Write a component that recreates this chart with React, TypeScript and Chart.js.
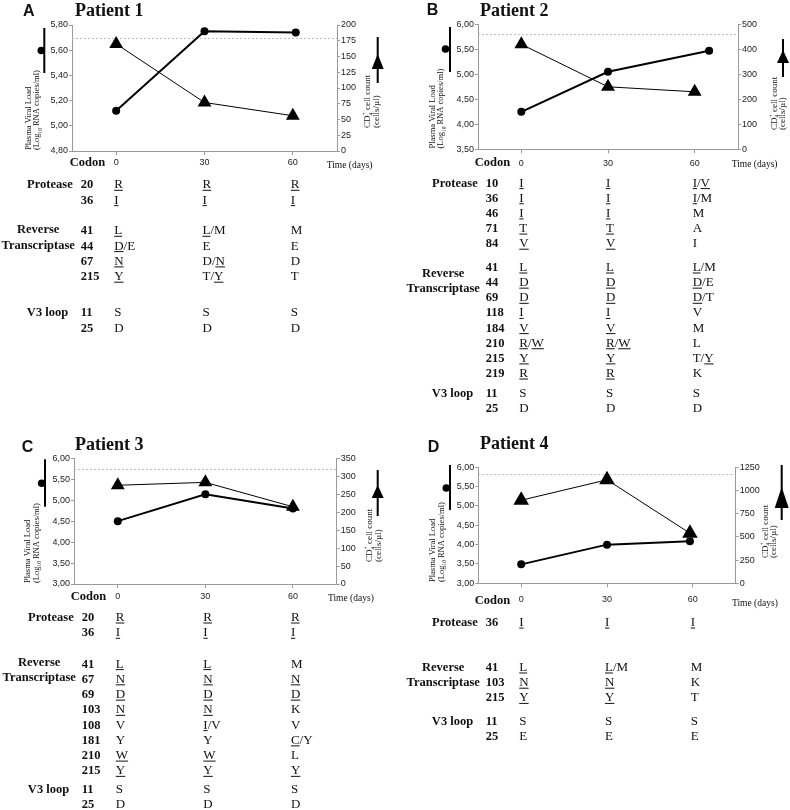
import React, { useEffect, useRef } from 'react';
import { Chart, registerables } from 'chart.js';

Chart.register(...registerables);

const SERIF = "'Liberation Serif', 'Times New Roman', Times, serif";
const SANS = "'Liberation Sans', Arial, Helvetica, sans-serif";
const NARROW = "'Liberation Sans Narrow', 'Arial Narrow', 'Liberation Sans', Arial, sans-serif";
const AXIS = '#9a9a9a';
const INK = '#111111';

// ---------- shared ----------
const timeTicks = [0, 30, 60];
const timeRange = [-15, 75];
const groupNames = ['Protease', 'Reverse Transcriptase', 'V3 loop'];
const codonLabel = 'Codon';
const timeLabel = 'Time (days)';
type Seg = string | { sub?: string; sup?: string };
const leftTitle1: Seg[] = ['Plasma Viral Load'];
const leftTitle2: Seg[] = ['(Log', { sub: '10' }, ' RNA copies/ml)'];
const rightTitle1: Seg[] = ['CD', { sub: '4', sup: '+' }, ' cell count'];
const rightTitle2: Seg[] = ['(cells/µl)'];

// ---------- Patient 1 ----------
const p1Letter = 'A';
const p1Title = 'Patient 1';
const p1ViralDays = [0, 30, 61];
const p1Viral = [5.12, 5.75, 5.74];
const p1Cd4Days = [0, 30, 60];
const p1Cd4 = [170, 77, 56];
const p1Ref = 5.7;
const p1LeftTicks = [4.8, 5.0, 5.2, 5.4, 5.6, 5.8];
const p1RightTicks = [0, 25, 50, 75, 100, 125, 150, 175, 200];
const p1Protease = [['20', '_R', '_R', '_R'], ['36', '_I', '_I', '_I']];
const p1RT = [['41', '_L', '_L/M', 'M'], ['44', '_D/E', 'E', 'E'], ['67', '_N', 'D/_N', 'D'], ['215', '_Y', 'T/_Y', 'T']];
const p1V3 = [['11', 'S', 'S', 'S'], ['25', 'D', 'D', 'D']];

// ---------- Patient 2 ----------
const p2Letter = 'B';
const p2Title = 'Patient 2';
const p2ViralDays = [0, 30, 65];
const p2Viral = [4.25, 5.05, 5.47];
const p2Cd4Days = [0, 30, 60];
const p2Cd4 = [420, 250, 230];
const p2Ref = 5.8;
const p2LeftTicks = [3.5, 4.0, 4.5, 5.0, 5.5, 6.0];
const p2RightTicks = [0, 100, 200, 300, 400, 500];
const p2Protease = [['10', '_I', '_I', '_I/_V'], ['36', '_I', '_I', '_I/M'], ['46', '_I', '_I', 'M'], ['71', '_T', '_T', 'A'], ['84', '_V', '_V', 'I']];
const p2RT = [['41', '_L', '_L', '_L/M'], ['44', '_D', '_D', '_D/E'], ['69', '_D', '_D', '_D/T'], ['118', '_I', '_I', 'V'], ['184', '_V', '_V', 'M'], ['210', '_R/_W', '_R/_W', 'L'], ['215', '_Y', '_Y', 'T/_Y'], ['219', '_R', '_R', 'K']];
const p2V3 = [['11', 'S', 'S', 'S'], ['25', 'D', 'D', 'D']];

// ---------- Patient 3 ----------
const p3Letter = 'C';
const p3Title = 'Patient 3';
const p3ViralDays = [0, 30, 60];
const p3Viral = [4.5, 5.14, 4.8];
const p3Cd4Days = [0, 30, 60];
const p3Cd4 = [275, 283, 215];
const p3Ref = 5.74;
const p3LeftTicks = [3.0, 3.5, 4.0, 4.5, 5.0, 5.5, 6.0];
const p3RightTicks = [0, 50, 100, 150, 200, 250, 300, 350];
const p3Protease = [['20', '_R', '_R', '_R'], ['36', '_I', '_I', '_I']];
const p3RT = [['41', '_L', '_L', 'M'], ['67', '_N', '_N', '_N'], ['69', '_D', '_D', '_D'], ['103', '_N', '_N', 'K'], ['108', 'V', '_I/V', 'V'], ['181', 'Y', 'Y', '_C/Y'], ['210', '_W', '_W', 'L'], ['215', '_Y', '_Y', '_Y']];
const p3V3 = [['11', 'S', 'S', 'S'], ['25', 'D', 'D', 'D']];

// ---------- Patient 4 ----------
const p4Letter = 'D';
const p4Title = 'Patient 4';
const p4ViralDays = [0, 30, 59];
const p4Viral = [3.49, 4.0, 4.09];
const p4Cd4Days = [0, 30, 59];
const p4Cd4 = [895, 1115, 540];
const p4Ref = 5.82;
const p4LeftTicks = [3.0, 3.5, 4.0, 4.5, 5.0, 5.5, 6.0];
const p4RightTicks = [0, 250, 500, 750, 1000, 1250];
const p4Protease = [['36', '_I', '_I', '_I']];
const p4RT = [['41', '_L', '_L/M', 'M'], ['103', '_N', '_N', 'K'], ['215', '_Y', '_Y', 'T']];
const p4V3 = [['11', 'S', 'S', 'S'], ['25', 'E', 'E', 'E']];

type PanelData = {
  letter: string; title: string;
  viralDays: number[]; viral: number[]; cd4Days: number[]; cd4: number[];
  ref: number; leftTicks: number[]; rightTicks: number[]; groups: string[][][];
};

const panels: PanelData[] = [
  { letter: p1Letter, title: p1Title, viralDays: p1ViralDays, viral: p1Viral, cd4Days: p1Cd4Days, cd4: p1Cd4, ref: p1Ref, leftTicks: p1LeftTicks, rightTicks: p1RightTicks, groups: [p1Protease, p1RT, p1V3] },
  { letter: p2Letter, title: p2Title, viralDays: p2ViralDays, viral: p2Viral, cd4Days: p2Cd4Days, cd4: p2Cd4, ref: p2Ref, leftTicks: p2LeftTicks, rightTicks: p2RightTicks, groups: [p2Protease, p2RT, p2V3] },
  { letter: p3Letter, title: p3Title, viralDays: p3ViralDays, viral: p3Viral, cd4Days: p3Cd4Days, cd4: p3Cd4, ref: p3Ref, leftTicks: p3LeftTicks, rightTicks: p3RightTicks, groups: [p3Protease, p3RT, p3V3] },
  { letter: p4Letter, title: p4Title, viralDays: p4ViralDays, viral: p4Viral, cd4Days: p4Cd4Days, cd4: p4Cd4, ref: p4Ref, leftTicks: p4LeftTicks, rightTicks: p4RightTicks, groups: [p4Protease, p4RT, p4V3] },
];

// ---------- layout (positions only) ----------
type PanelLayout = {
  x: number; y: number; w: number; h: number;
  area: [number, number, number, number];
  letterPos: [number, number]; titlePos: [number, number];
  leftTitleX: [number, number]; leftTitleY: number;
  leftLegend: { x: number; y1: number; y2: number; cx: number; cy: number };
  rightTitleX: [number, number]; rightTitleY: number;
  rightLegend: { x: number; y1: number; y2: number; apex: number; base: number; hw: number };
  codonY: number; xPad: number; timePos: [number, number];
  codonX: number; groupY: number[]; rowStep: number; rtDy: number; triR: number;
};

const layouts: PanelLayout[] = [
  {
    x: 0, y: 0, w: 395, h: 420, area: [72, 25, 337, 151],
    letterPos: [23, 15.5], titlePos: [75, 16],
    leftTitleX: [30.5, 39], leftTitleY: 150,
    leftLegend: { x: 44.3, y1: 28, y2: 73, cx: 41.3, cy: 50.5 },
    rightTitleX: [370, 378.5], rightTitleY: 128,
    rightLegend: { x: 377.7, y1: 37, y2: 83, apex: 54, base: 69, hw: 6 },
    codonY: 163, xPad: 2.6, timePos: [326.7, 165],
    codonX: 80.7, groupY: [184, 230, 312], rowStep: 15.3, rtDy: -1, triR: 8,
  },
  {
    x: 395, y: 0, w: 395, h: 420, area: [83, 24.3, 343, 149.3],
    letterPos: [31.7, 15], titlePos: [85, 15.5],
    leftTitleX: [40, 48], leftTitleY: 148.5,
    leftLegend: { x: 55, y1: 27, y2: 72, cx: 50.5, cy: 49 },
    rightTitleX: [381.5, 390], rightTitleY: 130,
    rightLegend: { x: 388, y1: 39, y2: 77, apex: 50, base: 63, hw: 6 },
    codonY: 162.7, xPad: 4.6, timePos: [336.7, 164.3],
    codonX: 90.7, groupY: [182.3, 266.7, 392.7], rowStep: 15.15, rtDy: 6, triR: 8,
  },
  {
    x: 0, y: 410, w: 395, h: 400, area: [74, 48.3, 336.7, 174],
    letterPos: [21.7, 41.7], titlePos: [75, 39.5],
    leftTitleX: [30, 38.5], leftTitleY: 173,
    leftLegend: { x: 45, y1: 49.3, y2: 96.7, cx: 41.7, cy: 73.3 },
    rightTitleX: [372, 381], rightTitleY: 152,
    rightLegend: { x: 377.7, y1: 60, y2: 106, apex: 75, base: 88, hw: 6 },
    codonY: 186.7, xPad: 3.6, timePos: [328, 188],
    codonX: 81.7, groupY: [206.7, 253.3, 379], rowStep: 15.25, rtDy: -1.5, triR: 8,
  },
  {
    x: 395, y: 410, w: 395, h: 400, area: [83.3, 57.3, 340.7, 173.3],
    letterPos: [32.7, 41.7], titlePos: [85, 38.5],
    leftTitleX: [40, 48.5], leftTitleY: 172,
    leftLegend: { x: 55, y1: 55, y2: 100, cx: 51.3, cy: 78 },
    rightTitleX: [372.5, 380.5], rightTitleY: 148,
    rightLegend: { x: 386.7, y1: 55, y2: 110, apex: 77, base: 98, hw: 7 },
    codonY: 191, xPad: 6.6, timePos: [337, 193.3],
    codonX: 90.7, groupY: [211.7, 256.7, 311], rowStep: 15.2, rtDy: 0, triR: 9,
  },
];

// ---------- drawing helpers ----------
function drawSegs(ctx: CanvasRenderingContext2D, segs: Seg[], size: number) {
  let x = 0;
  for (const s of segs) {
    if (typeof s === 'string') {
      ctx.font = `${size}px ${SERIF}`;
      ctx.fillText(s, x, 0);
      x += ctx.measureText(s).width;
    } else {
      ctx.font = `${size * 0.62}px ${SERIF}`;
      let w = 0;
      if (s.sub) { ctx.fillText(s.sub, x, size * 0.3); w = Math.max(w, ctx.measureText(s.sub).width); }
      if (s.sup) { ctx.fillText(s.sup, x, -size * 0.42); w = Math.max(w, ctx.measureText(s.sup).width); }
      x += w;
    }
  }
}

function drawRotated(ctx: CanvasRenderingContext2D, segs: Seg[], x: number, y: number, size: number) {
  ctx.save();
  ctx.translate(x, y);
  ctx.rotate(-Math.PI / 2);
  ctx.textAlign = 'left';
  ctx.textBaseline = 'alphabetic';
  drawSegs(ctx, segs, size);
  ctx.restore();
}

function drawMarked(ctx: CanvasRenderingContext2D, str: string, x: number, y: number) {
  let cx = x;
  let under = false;
  for (const ch of str) {
    if (ch === '_') { under = true; continue; }
    ctx.fillText(ch, cx, y);
    const w = ctx.measureText(ch).width;
    if (under) ctx.fillRect(cx, y + 1.6, w, 1);
    cx += w;
    under = false;
  }
}

function makePlugin(d: PanelData, L: PanelLayout) {
  return {
    id: 'decor' + d.letter,
    beforeDatasetsDraw(chart: any) {
      const ctx: CanvasRenderingContext2D = chart.ctx;
      const a = chart.chartArea;
      const y = Math.round(chart.scales.yL.getPixelForValue(d.ref)) + 0.5;
      ctx.save();
      ctx.strokeStyle = '#bdbdbd';
      ctx.lineWidth = 1;
      ctx.setLineDash([2, 2]);
      ctx.beginPath();
      ctx.moveTo(a.left, y);
      ctx.lineTo(a.right, y);
      ctx.stroke();
      ctx.restore();
    },
    afterDraw(chart: any) {
      const ctx: CanvasRenderingContext2D = chart.ctx;
      ctx.save();
      ctx.fillStyle = INK;
      ctx.textAlign = 'left';
      ctx.textBaseline = 'alphabetic';
      ctx.font = `bold 16px ${SANS}`;
      ctx.fillText(d.letter, L.letterPos[0], L.letterPos[1]);
      ctx.font = `bold 18px ${SERIF}`;
      ctx.fillText(d.title, L.titlePos[0], L.titlePos[1]);

      drawRotated(ctx, leftTitle1, L.leftTitleX[0], L.leftTitleY, 8.5);
      drawRotated(ctx, leftTitle2, L.leftTitleX[1], L.leftTitleY, 8.5);
      drawRotated(ctx, rightTitle1, L.rightTitleX[0], L.rightTitleY, 9);
      drawRotated(ctx, rightTitle2, L.rightTitleX[1], L.rightTitleY, 9);

      // legend symbols
      const ll = L.leftLegend;
      ctx.fillStyle = '#000';
      ctx.fillRect(ll.x - 1, ll.y1, 2, ll.y2 - ll.y1);
      ctx.beginPath();
      ctx.arc(ll.cx, ll.cy, 3.8, 0, Math.PI * 2);
      ctx.fill();
      const rl = L.rightLegend;
      ctx.fillRect(rl.x - 1, rl.y1, 2, rl.y2 - rl.y1);
      ctx.beginPath();
      ctx.moveTo(rl.x, rl.apex);
      ctx.lineTo(rl.x + rl.hw, rl.base);
      ctx.lineTo(rl.x - rl.hw, rl.base);
      ctx.closePath();
      ctx.fill();

      // codon / time labels
      ctx.fillStyle = INK;
      ctx.textBaseline = 'middle';
      ctx.font = `bold 12.5px ${SERIF}`;
      ctx.fillText(codonLabel, L.codonX - 11, L.codonY);
      ctx.font = `9.5px ${SERIF}`;
      ctx.fillText(timeLabel, L.timePos[0], L.timePos[1]);

      // table
      ctx.textBaseline = 'alphabetic';
      const xs = timeTicks.map((t) => chart.scales.x.getPixelForValue(t) - 2);
      d.groups.forEach((rows, gi) => {
        const y0 = L.groupY[gi];
        rows.forEach((row, ri) => {
          const yb = y0 + ri * L.rowStep + 4.2;
          ctx.font = `bold 12.5px ${SERIF}`;
          ctx.textAlign = 'left';
          ctx.fillText(row[0], L.codonX, yb);
          ctx.font = `13px ${SERIF}`;
          row.slice(1).forEach((v, k) => drawMarked(ctx, v, xs[k], yb));
        });
        ctx.font = `bold 12.5px ${SERIF}`;
        const name = groupNames[gi];
        if (name === 'Reverse Transcriptase') {
          ctx.textAlign = 'center';
          ctx.fillText('Reverse', L.codonX - 42.5, y0 + L.rtDy + 4.2);
          ctx.fillText('Transcriptase', L.codonX - 42.5, y0 + L.rowStep + L.rtDy + 4.2);
        } else {
          ctx.textAlign = 'right';
          ctx.fillText(name, L.codonX - (name === 'Protease' ? 8 : 12.5), y0 + 4.2);
        }
      });
      ctx.restore();
    },
  };
}

function buildConfig(d: PanelData, L: PanelLayout): any {
  const [al, at, ar, ab] = L.area;
  const XH = 22;
  const tickFont = { family: NARROW, size: 9 };
  return {
    type: 'line',
    data: {
      datasets: [
        {
          label: 'Plasma viral load',
          data: d.viralDays.map((t, i) => ({ x: t, y: d.viral[i] })),
          yAxisID: 'yL',
          borderColor: '#000', backgroundColor: '#000',
          borderWidth: 2, tension: 0,
          pointStyle: 'circle', pointRadius: 4, pointBorderWidth: 0,
          pointBackgroundColor: '#000', clip: false,
        },
        {
          label: 'CD4 cell count',
          data: d.cd4Days.map((t, i) => ({ x: t, y: d.cd4[i] })),
          yAxisID: 'yR',
          borderColor: '#000', backgroundColor: '#000',
          borderWidth: 1, tension: 0,
          pointStyle: 'triangle', pointRadius: L.triR, pointBorderWidth: 0,
          pointBackgroundColor: '#000', clip: false,
        },
      ],
    },
    options: {
      responsive: false,
      animation: false,
      events: [],
      layout: { padding: { left: 0, right: 0, top: at, bottom: L.h - ab - XH } },
      plugins: { legend: { display: false }, tooltip: { enabled: false } },
      scales: {
        x: {
          type: 'linear', position: 'bottom', min: timeRange[0], max: timeRange[1],
          afterBuildTicks: (s: any) => { s.ticks = timeTicks.map((v) => ({ value: v })); },
          afterFit: (s: any) => { s.height = XH; },
          grid: { display: true, drawOnChartArea: false, drawTicks: true, tickLength: 4, color: AXIS },
          border: { display: true, color: AXIS, width: 1 },
          ticks: { font: tickFont, color: '#222', padding: L.xPad, maxRotation: 0, autoSkip: false, callback: (v: any) => String(v) },
        },
        yL: {
          type: 'linear', position: 'left',
          min: d.leftTicks[0], max: d.leftTicks[d.leftTicks.length - 1],
          afterBuildTicks: (s: any) => { s.ticks = d.leftTicks.map((v) => ({ value: v })); },
          afterFit: (s: any) => { s.width = al; },
          grid: { display: true, drawOnChartArea: false, drawTicks: true, tickLength: 3, color: AXIS },
          border: { display: true, color: AXIS, width: 1 },
          ticks: { font: tickFont, color: '#222', padding: 1, autoSkip: false, callback: (v: any) => Number(v).toFixed(2).replace('.', ',') },
        },
        yR: {
          type: 'linear', position: 'right',
          min: d.rightTicks[0], max: d.rightTicks[d.rightTicks.length - 1],
          afterBuildTicks: (s: any) => { s.ticks = d.rightTicks.map((v) => ({ value: v })); },
          afterFit: (s: any) => { s.width = L.w - ar; },
          grid: { display: true, drawOnChartArea: false, drawTicks: true, tickLength: 3, color: AXIS },
          border: { display: true, color: AXIS, width: 1 },
          ticks: { font: tickFont, color: '#222', padding: 1, autoSkip: false, callback: (v: any) => String(v) },
        },
      },
    },
    plugins: [makePlugin(d, L)],
  };
}

function Panel({ data, layout }: { data: PanelData; layout: PanelLayout }) {
  const ref = useRef<HTMLCanvasElement>(null);
  useEffect(() => {
    const chart = new Chart(ref.current as HTMLCanvasElement, buildConfig(data, layout));
    return () => chart.destroy();
  }, [data, layout]);
  return (
    <canvas
      ref={ref}
      width={layout.w}
      height={layout.h}
      style={{ position: 'absolute', left: layout.x, top: layout.y, width: layout.w, height: layout.h, display: 'block' }}
    />
  );
}

export default function App() {
  return (
    <div style={{ position: 'absolute', left: 0, top: 0, width: 790, height: 810, background: '#fff', overflow: 'hidden' }}>
      {panels.map((p, i) => (
        <Panel key={p.letter} data={p} layout={layouts[i]} />
      ))}
    </div>
  );
}
